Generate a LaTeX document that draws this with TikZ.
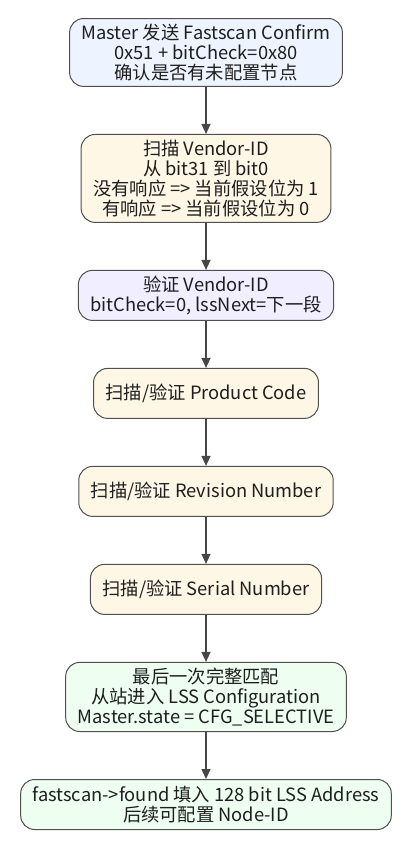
\documentclass[tikz,border=0pt]{standalone}
\usepackage{fontspec}
\setmainfont{Noto Sans CJK SC}
\usetikzlibrary{arrows.meta,positioning}
\definecolor{ink}{RGB}{30,30,30}
\definecolor{edge}{RGB}{80,80,80}
\definecolor{line}{RGB}{70,70,70}
\definecolor{bluefill}{RGB}{238,244,255}
\definecolor{yellowfill}{RGB}{255,247,230}
\definecolor{lilacfill}{RGB}{241,238,255}
\definecolor{greenfill}{RGB}{238,255,242}
\tikzset{
  every picture/.style={color=ink, line width=1pt, font=\fontsize{18.3}{20}\selectfont},
  node distance=47pt,
  box/.style={draw=edge, rounded corners=14pt, inner xsep=12pt, inner ysep=5.5pt, minimum height=50pt, align=center, text=ink},
  startbox/.style={box, fill=bluefill},
  scanbox/.style={box, fill=yellowfill},
  checkbox/.style={box, fill=lilacfill},
  donebox/.style={box, fill=greenfill},
  flow/.style={-{Triangle[length=10pt,width=9pt]}, draw=line, line width=1.3pt},
}

\begin{document}
\begin{tikzpicture}
  \useasboundingbox (0,0) rectangle (413pt,-852pt);
  % fastscan steps
  \node[startbox, anchor=north] (confirm) at (206pt,-18pt) {Master 发送 Fastscan Confirm\\0x51 + bitCheck=0x80\\确认是否有未配置节点};
  \node[scanbox, below=of confirm] (scanvid) {扫描 Vendor-ID\\从 bit31 到 bit0\\没有响应 => 当前假设位为 1\\有响应 => 当前假设位为 0};
  \node[checkbox, below=of scanvid] (checkvid) {验证 Vendor-ID\\bitCheck=0, lssNext=下一段};
  \node[scanbox, below=of checkvid] (product) {扫描/验证 Product Code};
  \node[scanbox, below=of product] (revision) {扫描/验证 Revision Number};
  \node[scanbox, below=of revision] (serial) {扫描/验证 Serial Number};
  \node[donebox, below=of serial] (match) {最后一次完整匹配\\从站进入 LSS Configuration\\Master.state = CFG\_SELECTIVE};
  \node[donebox, below=of match] (found) {fastscan->found 填入 128 bit LSS Address\\后续可配置 Node-ID};
  % arrows
  \foreach \a/\b in {confirm/scanvid, scanvid/checkvid, checkvid/product, product/revision, revision/serial, serial/match, match/found}
    \draw[flow] (\a) -- (\b);
\end{tikzpicture}
\end{document}
